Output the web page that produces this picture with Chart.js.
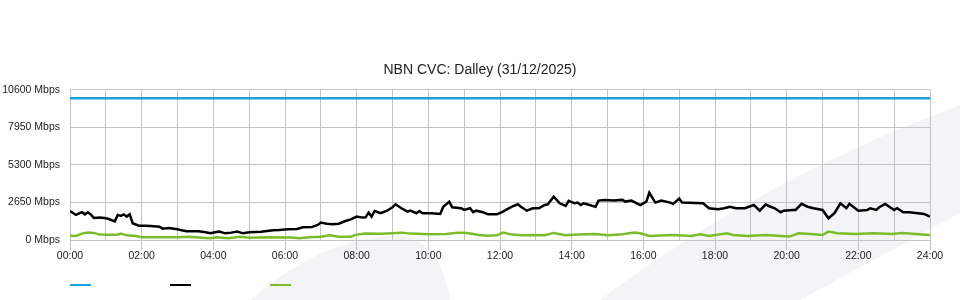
<!DOCTYPE html>
<html lang="en">
<head>
    <meta charset="UTF-8">
    <title>NBN CVC: Dalley</title>
    <script src="https://cdn.jsdelivr.net/npm/chart.js"></script>
    <style>
        body {
            margin: 0;
            background: #fff;
        }
        .wrap {
            width: 960px;
            height: 300px;
        }
    </style>
</head>
<body>
    <div class="wrap">
        <canvas id="cvcChart" width="960" height="300"></canvas>
    </div>

    <script>
        // minutes since midnight
        const capacityTimes = [0, 1440];
        const capacityValues = [10000, 10000];

        const usedTimes = [0, 10, 20, 25, 30, 35, 40, 50, 60, 65, 75, 80, 85, 90, 95, 100, 105, 115, 125, 135,
            150, 155, 165, 180, 185, 195, 215, 225, 235, 245, 250, 260, 270, 280, 290, 300, 320, 330, 340, 350,
            365, 380, 390, 405, 415, 420, 430, 440, 450, 460, 470, 480, 490, 495, 500, 505, 510, 520, 530, 540,
            545, 555, 565, 570, 580, 585, 590, 605, 620, 625, 635, 640, 655, 660, 670, 675, 680, 690, 700, 715,
            725, 730, 740, 750, 755, 765, 775, 785, 795, 800, 810, 820, 830, 835, 845, 850, 855, 860, 870, 880,
            885, 895, 910, 925, 930, 940, 955, 965, 970, 980, 990, 1005, 1010, 1020, 1025, 1060, 1070, 1085, 1095, 1105,
            1115, 1130, 1145, 1155, 1165, 1170, 1180, 1190, 1195, 1210, 1215, 1225, 1235, 1245, 1260, 1270, 1280, 1290, 1300, 1305,
            1320, 1335, 1340, 1350, 1355, 1365, 1380, 1385, 1395, 1405, 1420, 1430, 1440];
        const usedValues = [2050, 1770, 1960, 1810, 1960, 1790, 1560, 1580, 1530, 1480, 1320, 1770, 1700, 1810, 1650, 1810, 1180, 1010, 1010, 990,
            940, 800, 850, 760, 710, 620, 620, 570, 470, 570, 590, 470, 520, 590, 470, 540, 590, 640, 690, 710,
            760, 780, 900, 920, 1060, 1230, 1150, 1110, 1150, 1320, 1460, 1650, 1580, 1600, 1930, 1650, 2050, 1890, 2050, 2310,
            2520, 2240, 2000, 2070, 1890, 2050, 1890, 1890, 1840, 2350, 2710, 2310, 2240, 2120, 2240, 1960, 2070, 1980, 1810, 1810,
            2000, 2120, 2350, 2520, 2350, 2070, 2240, 2240, 2470, 2520, 3060, 2590, 2400, 2760, 2590, 2640, 2470, 2590, 2470, 2350,
            2780, 2830, 2780, 2830, 2710, 2780, 2470, 2710, 3340, 2640, 2780, 2640, 2550, 2920, 2640, 2590, 2240, 2170, 2240, 2350,
            2240, 2240, 2470, 2070, 2520, 2400, 2240, 1960, 2070, 2120, 2120, 2550, 2350, 2240, 2120, 1530, 1890, 2590, 2240, 2550,
            2070, 2120, 2240, 2120, 2310, 2550, 2120, 2240, 1960, 1960, 1890, 1840, 1650];

        const uploadTimes = [0, 10, 20, 30, 40, 50, 60, 80, 85, 95, 110, 120, 150, 180, 200, 215, 235, 245, 265, 285,
            300, 330, 370, 385, 400, 420, 435, 450, 470, 480, 495, 520, 540, 555, 570, 600, 630, 650, 665, 685,
            700, 715, 725, 740, 755, 780, 795, 810, 830, 850, 880, 900, 920, 945, 955, 970, 1010, 1040, 1055, 1070,
            1100, 1110, 1135, 1165, 1190, 1205, 1220, 1240, 1260, 1270, 1285, 1315, 1345, 1375, 1395, 1415, 1440];
        const uploadValues = [300, 290, 450, 530, 500, 380, 370, 370, 460, 330, 280, 200, 190, 190, 230, 180, 120, 190, 130, 235,
            160, 190, 180, 120, 200, 235, 330, 235, 230, 380, 450, 440, 480, 520, 450, 400, 420, 520, 500, 350,
            300, 340, 520, 380, 330, 360, 330, 500, 330, 380, 420, 330, 380, 520, 480, 290, 350, 290, 400, 290,
            470, 350, 290, 350, 290, 240, 470, 420, 350, 600, 480, 430, 470, 430, 500, 430, 360];

        const yTicks = [0, 2650, 5300, 7950, 10600];

        function toPoints(times, values) {
            return times.map((t, i) => ({ x: t, y: values[i] }));
        }

        function hhmm(m) {
            const h = Math.floor(m / 60);
            return String(h).padStart(2, '0') + ':00';
        }

        const gridColor = '#c4c4c4';

        // light swoosh shapes behind the chart
        const backdrop = {
            id: 'backdrop',
            beforeDraw(chart) {
                const c = chart.ctx;
                c.save();
                c.fillStyle = '#fff';
                c.fillRect(0, 0, chart.width, chart.height);
                c.fillStyle = '#f3f4f6';
                c.beginPath();
                c.moveTo(251, 300);
                c.quadraticCurveTo(320, 238, 395, 236);
                c.quadraticCurveTo(440, 236, 450, 300);
                c.closePath();
                c.fill();
                c.beginPath();
                c.moveTo(600, 300);
                c.quadraticCurveTo(760, 180, 960, 105);
                c.lineTo(960, 213);
                c.lineTo(800, 300);
                c.closePath();
                c.fill();
                c.restore();
            }
        };

        // legend keys only, no text
        const keyLines = {
            id: 'keyLines',
            afterDraw(chart) {
                const c = chart.ctx;
                const left = chart.chartArea.left;
                c.save();
                c.lineWidth = 2;
                chart.data.datasets.forEach((ds, i) => {
                    c.strokeStyle = ds.borderColor;
                    c.beginPath();
                    c.moveTo(left + i * 100, 285);
                    c.lineTo(left + i * 100 + 21, 285);
                    c.stroke();
                });
                c.restore();
            }
        };

        const tickFont = { family: 'Liberation Sans', size: 10.5 };

        const ctx = document.getElementById('cvcChart').getContext('2d');
        new Chart(ctx, {
            type: 'line',
            data: {
                datasets: [{
                    label: 'Capacity',
                    data: toPoints(capacityTimes, capacityValues),
                    borderColor: '#1a9fe0',
                    borderWidth: 2.5,
                    pointRadius: 0
                }, {
                    label: 'Download',
                    data: toPoints(usedTimes, usedValues),
                    borderColor: '#000000',
                    borderWidth: 2.5,
                    pointRadius: 0
                }, {
                    label: 'Upload',
                    data: toPoints(uploadTimes, uploadValues),
                    borderColor: '#7cbc2a',
                    borderWidth: 2.5,
                    pointRadius: 0
                }]
            },
            plugins: [backdrop, keyLines],
            options: {
                responsive: false,
                animation: false,
                layout: {
                    padding: { top: 52, right: 0, bottom: 36, left: 0 }
                },
                scales: {
                    x: {
                        type: 'linear',
                        min: 0,
                        max: 1440,
                        afterFit(scale) { scale.height = 24; },
                        grid: {
                            color: gridColor,
                            tickLength: 10,
                            tickColor: (c) => (c.tick && c.tick.value % 120 === 0) ? gridColor : 'rgba(0,0,0,0)'
                        },
                        border: { color: gridColor },
                        ticks: {
                            stepSize: 60,
                            autoSkip: false,
                            maxRotation: 0,
                            padding: 0,
                            color: '#222',
                            font: tickFont,
                            callback: (v) => v % 120 === 0 ? hhmm(v) : ''
                        }
                    },
                    y: {
                        min: 0,
                        max: 10600,
                        afterFit(scale) { scale.width = 70; },
                        afterBuildTicks(scale) {
                            scale.ticks = yTicks.map(v => ({ value: v }));
                        },
                        grid: {
                            color: gridColor,
                            drawTicks: false
                        },
                        border: { color: gridColor },
                        ticks: {
                            padding: 10,
                            color: '#222',
                            font: tickFont,
                            callback: (v) => v + ' Mbps'
                        }
                    },
                    // empty right-hand strip so the title centres on the page
                    yPad: {
                        position: 'right',
                        min: 0,
                        max: 10600,
                        afterFit(scale) { scale.width = 30; },
                        grid: { display: false },
                        border: { display: false },
                        ticks: { display: false }
                    }
                },
                plugins: {
                    legend: { display: false },
                    tooltip: { enabled: false },
                    title: {
                        display: true,
                        text: 'NBN CVC: Dalley (31/12/2025)',
                        color: '#222',
                        font: { family: 'Liberation Sans', size: 14, weight: 'normal' },
                        padding: { top: 10, bottom: 11 }
                    }
                }
            }
        });
    </script>
</body>
</html>
